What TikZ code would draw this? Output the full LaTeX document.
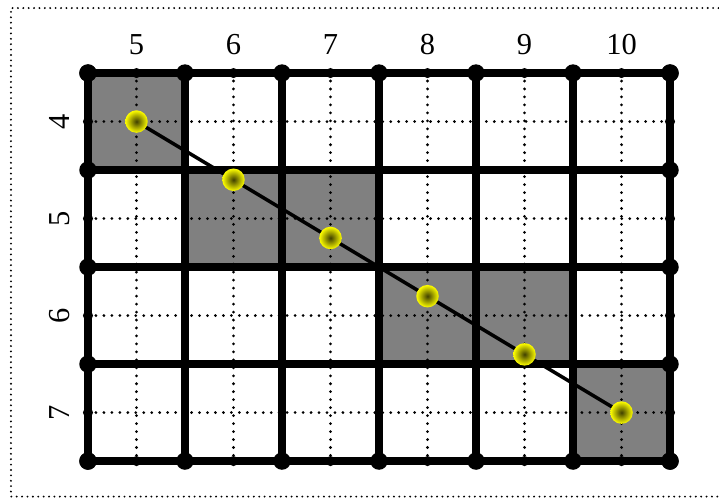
\documentclass[tikz,border=0pt]{standalone}
\usepackage{fontspec}
\setmainfont{Liberation Serif}
\tikzset{
  frame/.style={line width=1.8pt,line cap=round,dash pattern=on 0pt off 4.6pt},
  dotline/.style={line width=2.6pt,line cap=round,dash pattern=on 0pt off 6.8pt},
  gridline/.style={line width=6.8pt},
  pixel/.style={fill=gray},
  numlabel/.style={font=\fontsize{26}{31}\selectfont,inner sep=0pt}
}
\begin{document}
\begin{tikzpicture}[x=2.91cm,y=-2.91cm]
\useasboundingbox (-0.907,-0.753) rectangle (6.505,4.371);
\draw[frame] (7,-0.670) -- (-0.794,-0.670) -- (-0.794,4.366) -- (7,4.366);
% chosen pixels
\foreach \c/\r in {0/0,1/1,2/1,3/2,4/2,5/3} {\fill[pixel] (\c,\r) rectangle ++(1,1);}
% pixel centres
\foreach \c in {0,...,5} {\draw[dotline] (\c+0.5,0) -- (\c+0.5,4);}
\foreach \r in {0,...,3} {\draw[dotline] (0,\r+0.5) -- (6,\r+0.5);}
% pixel borders
\foreach \c in {0,...,6} {\draw[gridline] (\c,0) -- (\c,4);}
\foreach \r in {0,...,4} {\draw[gridline] (0,\r) -- (6,\r);}
\foreach \c in {0,...,6} {\fill (\c,0) circle (0.09); \fill (\c,4) circle (0.09);}
\foreach \r in {0,...,4} {\fill (0,\r) circle (0.09); \fill (6,\r) circle (0.09);}
\foreach \c in {0,...,5} {\fill (\c+0.5,0) circle (0.052); \fill (\c+0.5,4) circle (0.052);}
\foreach \r in {0,...,3} {\fill (0,\r+0.5) circle (0.052); \fill (6,\r+0.5) circle (0.052);}
% labels
\foreach \n [count=\i from 0] in {5,6,7,8,9,10} {\node[numlabel] (col\n) at (\i+0.5,-0.29) {\n};}
\foreach \n [count=\i from 0] in {4,5,6,7} {\node[numlabel,rotate=90] (row\n) at (-0.29,\i+0.5) {\n};}
% ideal line
\foreach \k in {0,...,5} {\coordinate (p\k) at (\k+0.5,0.5+0.6*\k);}
\draw[line width=3pt] (p0) -- (p5);
\foreach \k in {0,...,5} {\shade[inner color=yellow!25!black,outer color=yellow] (p\k) circle (0.116);}
\end{tikzpicture}
\end{document}
